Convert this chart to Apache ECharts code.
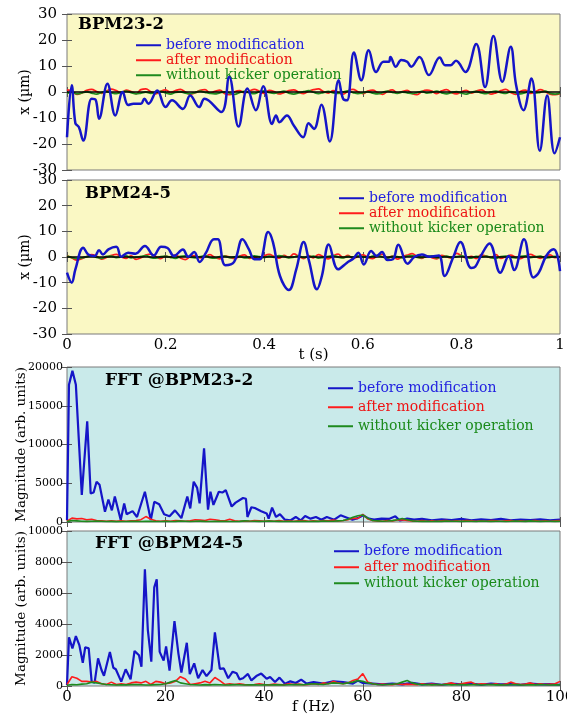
<!DOCTYPE html>
<html>
<head>
<meta charset="utf-8">
<script src="https://cdn.jsdelivr.net/npm/echarts@6/dist/echarts.min.js"></script>
<style>html,body{margin:0;padding:0;background:#fff}#c{width:567px;height:715px}</style>
</head>
<body>
<div id="c"></div>
<script>
// ---------- DATA ----------
const seriesNames = ['before modification', 'after modification', 'without kicker operation'];
const titles = ['BPM23-2', 'BPM24-5', 'FFT @BPM23-2', 'FFT @BPM24-5'];
const xTicksTime = [0, 0.2, 0.4, 0.6, 0.8, 1];
const xTicksFreq = [0, 20, 40, 60, 80, 100];

// BPM23-2 before modification (t in s, x in um)
const t1 = [0,0.0096,0.017,0.024,0.033,0.050,0.058,0.065,0.082,0.098,0.113,0.124,0.135,0.150,0.157,0.165,0.183,0.200,0.213,0.235,0.250,0.268,0.279,0.313,0.329,0.348,0.366,0.383,0.398,0.416,0.424,0.431,0.446,0.460,0.479,0.490,0.501,0.516,0.533,0.551,0.560,0.568,0.582,0.597,0.612,0.627,0.642,0.653,0.656,0.667,0.678,0.690,0.698,0.715,0.734,0.756,0.767,0.778,0.789,0.808,0.830,0.848,0.865,0.883,0.900,0.911,0.926,0.942,0.959,0.974,0.989,1.0];
const v1 = [-17.4,2.6,-12,-13.5,-18.7,-2.6,-3,-10.3,3.2,-9,0,-5,-4.5,-4.5,-2.6,-4.5,0.6,-5.8,-3.2,-6.5,-1.3,-5.8,-2.6,-7.7,5.8,-13.3,1.3,-7,2.2,-12.3,-9,-11.6,-9,-12.9,-17.4,-12,-14.2,-4.9,-19,4.5,-2.6,-3.2,15.2,4.5,16.1,7.7,11.6,11.6,13.5,9.7,12.3,11.6,9.7,13.5,6.5,13.3,10.3,10.3,12,7.7,18.5,1.9,21.5,3.9,17.4,2.6,-7,5.2,-22.6,-1.3,-23.6,-17.4];

// BPM24-5 before modification
const t2 = [0,0.0096,0.017,0.033,0.043,0.056,0.065,0.073,0.084,0.100,0.110,0.124,0.139,0.158,0.176,0.191,0.204,0.217,0.235,0.246,0.258,0.269,0.282,0.298,0.306,0.321,0.339,0.356,0.369,0.380,0.391,0.408,0.418,0.432,0.450,0.465,0.480,0.491,0.507,0.517,0.531,0.550,0.568,0.581,0.591,0.602,0.617,0.628,0.639,0.650,0.661,0.672,0.691,0.705,0.720,0.735,0.754,0.766,0.783,0.798,0.820,0.828,0.840,0.857,0.879,0.896,0.907,0.927,0.946,0.957,0.972,0.987,0.994,1.0];
const v2 = [-6.1,-10,-4.8,3.6,1,0.4,2.6,1,3,4,0.1,1.7,1.3,4.3,0.6,4,3.5,0.4,2.9,0.1,1.9,-1.9,1.7,6.9,6.9,-3.2,-1.9,6.9,3,-0.9,-0.9,9.7,5.6,-7.4,-12.9,-4.8,5.8,-1.6,-12.6,-7.4,4.9,-4.8,-2.2,-0.6,1.7,-2.9,2.3,0.4,1.9,-1.2,-0.9,4.8,-2.6,0.1,1,0.1,0.6,-7.4,-0.3,5.8,-4.3,-3.8,0.6,5.3,-6.1,0.4,-5.1,6.9,-8,-6.1,0.4,3,1,-5.5];

// common time grid for after / without series
const tGrid = [0,0.01,0.02,0.03,0.04,0.05,0.06,0.07,0.08,0.09,0.1,0.11,0.12,0.13,0.14,0.15,0.16,0.17,0.18,0.19,0.2,0.21,0.22,0.23,0.24,0.25,0.26,0.27,0.28,0.29,0.3,0.31,0.32,0.33,0.34,0.35,0.36,0.37,0.38,0.39,0.4,0.41,0.42,0.43,0.44,0.45,0.46,0.47,0.48,0.49,0.5,0.51,0.52,0.53,0.54,0.55,0.56,0.57,0.58,0.59,0.6,0.61,0.62,0.63,0.64,0.65,0.66,0.67,0.68,0.69,0.7,0.71,0.72,0.73,0.74,0.75,0.76,0.77,0.78,0.79,0.8,0.81,0.82,0.83,0.84,0.85,0.86,0.87,0.88,0.89,0.9,0.91,0.92,0.93,0.94,0.95,0.96,0.97,0.98,0.99,1];
const r1 = [0.8,0.3,-0.9,-0.4,0.6,1.0,0.2,-0.5,0.4,1.1, 0.5,-0.3,0.7,0.2,-0.6,0.9,1.2,0.1,-0.7,0.3, 0.8,-0.2,0.5,1.0,0.0,-0.8,-0.3,0.6,0.9,-0.4, 0.2,0.7,-0.6,-1.0,0.1,0.5,-0.3,0.4,1.0,0.3, -0.5,0.6,0.2,-0.7,-0.2,0.5,0.8,-0.1,-0.6,0.3, 0.9,1.2,0.2,-0.4,0.5,-0.3,-0.8,0.4,1.0,0.1, -0.6,0.3,0.7,-0.2,-0.9,0.2,0.8,-0.4,0.1,0.6, -0.5,-1.0,0.2,0.7,0.3,-0.6,0.4,0.9,-0.2,-0.7, 0.1,0.6,-0.4,0.3,0.8,-0.1,-0.8,-0.3,0.5,1.0, -0.2,-0.9,0.3,0.7,-0.5,0.1,0.9,0.2,-0.8,-1.0, -0.6];
const g1 = [-0.5,-0.1,-0.7,-0.3,0.1,-0.4,-0.8,-0.2,0.2,-0.3, -0.6,-0.1,0.3,-0.2,-0.7,-0.4,0.0,-0.5,-0.2,0.2, -0.3,-0.8,-0.1,0.1,-0.4,-0.6,-0.2,0.3,-0.1,-0.5, -0.7,-0.3,0.0,-0.4,-0.9,-0.2,0.2,-0.3,-0.6,0.1, 0.4,-0.2,-0.5,-0.1,0.3,-0.4,-0.8,-0.3,0.1,0.5, -0.1,-0.6,-0.2,0.2,-0.3,-0.5,0.0,0.4,-0.2,-0.6, -0.3,0.1,-0.4,-0.7,-0.2,0.3,-0.1,-0.5,0.0,-0.3, -0.6,-0.2,0.2,-0.4,-0.1,0.3,-0.3,-0.7,-0.2,0.1, -0.4,-0.8,-0.1,0.2,-0.3,-0.6,0.0,0.3,-0.2,-0.5, 0.1,-0.3,-0.7,-0.2,0.2,-0.4,-0.1,0.3,-0.5,-0.8, -0.4];
const r2 = [0.5,-0.4,-1.2,-0.6,0.2,0.9,0.3,-0.8,-0.2,0.6, 1.0,0.1,-0.5,0.4,-0.9,-0.3,0.7,1.1,0.2,-0.6, 0.3,-0.1,0.8,-0.4,-1.0,0.2,0.5,-0.3,0.1,0.9, -0.2,-0.7,0.4,-0.1,-0.6,0.3,0.8,-0.5,0.0,-0.8, 0.4,1.0,0.2,-0.4,0.6,-0.2,1.2,0.3,-0.6,0.5, -0.3,0.9,0.1,-0.7,0.4,1.1,-0.2,0.6,-0.5,0.2, 0.8,-0.1,-0.6,0.5,1.0,-0.4,0.3,-0.8,0.1,0.7, 1.3,0.2,-0.5,0.4,-0.2,-0.7,0.6,0.1,-0.4,1.4, 0.5,-0.3,0.2,-0.6,0.8,0.3,-0.2,0.9,-0.5,0.1, 0.7,-0.1,-0.6,0.4,1.0,0.2,-0.5,0.3,0.8,-0.2, 0.3];
const g2 = [0.3,-0.2,-0.6,-0.3,0.1,0.4,-0.1,-0.5,0.2,0.3, -0.2,0.0,0.4,-0.3,-0.1,0.2,0.5,-0.2,-0.4,0.1, 0.3,-0.1,-0.5,0.2,0.4,0.0,-0.3,0.1,0.5,-0.2, -0.4,0.1,0.3,-0.2,0.0,0.2,-0.3,-0.1,0.4,0.1, -0.2,0.3,-0.1,0.5,0.2,-0.3,0.0,0.4,-0.2,0.1, 0.3,-0.4,-0.1,0.2,0.5,0.0,-0.3,0.2,-0.1,0.4, 0.1,-0.2,0.3,0.6,0.0,-0.4,0.2,0.1,-0.3,0.3, 0.5,-0.1,-0.2,0.2,0.4,-0.3,0.0,0.3,-0.2,0.1, 0.4,-0.1,-0.4,0.2,0.0,0.3,-0.2,-0.5,0.1,0.3, -0.1,-0.3,0.2,0.4,-0.2,0.1,0.3,-0.4,-0.1,0.2, 0.0];

// FFT @BPM23-2 before modification (f in Hz, magnitude)
const f3 = [0,0.4,1.1,1.8,3.0,4.1,4.8,5.4,6.0,6.6,7.7,8.4,9.1,9.7,10.9,11.6,12.1,13.3,14.2,15.8,17.0,17.7,18.7,19.7,20.8,21.9,23.2,24.4,25.0,25.7,26.4,26.9,27.8,28.6,29.1,29.7,30.8,31.5,32.2,33.4,34.2,35.7,36.3,36.6,37.4,38.1,39.4,40.5,40.9,41.6,42.4,43.2,44.2,45.3,46.4,47.4,48.3,49.4,50.5,51.6,52.7,54.2,55.5,56.8,57.9,59.0,60.1,61.2,62.3,63.8,65.3,66.6,67.5,69.0,70.4,72,74,76,78,80,82,84,86,88,90,92,94,96,98,100];
const m3 = [250,17700,19500,17700,3500,13000,3700,3800,5200,4800,1330,2900,1500,3300,250,2400,1000,1400,650,3900,250,2600,2300,1000,750,1500,500,3300,1750,5200,4400,2400,9500,1600,3900,2200,3900,3800,4100,2000,2500,3100,3000,650,1900,1800,1400,1100,430,1850,650,1000,300,200,650,200,770,430,650,300,650,300,860,560,300,500,860,430,300,430,400,730,200,430,300,400,200,350,250,400,200,350,250,400,200,300,250,350,200,300];

// FFT @BPM24-5 before modification
const f4 = [0,0.4,1.1,1.8,2.5,3.2,3.7,4.4,5.0,5.6,6.3,7.0,7.5,8.7,9.4,9.9,11.0,11.9,12.9,13.7,14.6,15.1,15.8,16.4,17.1,17.7,18.2,18.8,19.6,20.1,20.8,21.8,22.6,23.2,24.3,24.9,25.8,26.6,27.5,28.3,29.3,30.0,31.0,31.8,32.7,33.6,34.4,35.0,35.7,36.7,37.4,38.4,39.4,40.5,41.2,42.2,43.1,44.2,45.3,46.4,47.5,48.6,50,52,54,56,58,59,60,62,64,66,68,70,72,74,76,78,80,82,84,86,88,90,92,94,96,98,100];
const m4 = [65,3140,2430,3220,2640,1500,2500,2430,280,220,1780,1030,660,2200,1180,1080,280,1080,430,2260,1980,1240,7530,3600,1570,6360,6880,2200,1640,2560,990,4190,2090,860,2790,770,1460,500,1030,640,1030,3460,1100,1140,500,920,820,430,500,780,360,640,800,470,580,260,540,150,300,190,410,150,250,150,300,250,150,350,200,150,100,150,100,200,100,150,80,150,100,150,80,150,100,120,80,150,100,120,80];

// common frequency grid for after / without series
const fGrid = [0,1,2,3,4,5,6,7,8,9,10,11,12,13,14,15,16,17,18,19,20,21,22,23,24,25,26,27,28,29,30,31,32,33,34,35,36,37,38,39,40,41,42,43,44,45,46,47,48,49,50,51,52,53,54,55,56,57,58,59,60,61,62,63,64,65,66,67,68,69,70,71,72,73,74,75,76,77,78,79,80,81,82,83,84,85,86,87,88,89,90,91,92,93,94,95,96,97,98,99,100];
const r3 = [100,500,400,450,300,350,200,150,100,150, 100,150,100,150,200,300,700,350,150,100, 150,100,200,150,100,150,300,250,200,350, 300,200,150,350,150,100,150,100,200,150, 100,150,100,200,100,150,100,150,200,100, 150,100,200,150,250,150,200,300,500,450, 1000,400,200,150,100,200,150,250,300,200, 150,100,200,100,150,100,150,200,100,150, 100,200,150,100,150,100,200,150,100,150, 200,100,150,100,150,200,100,150,100,150, 200];
const g3 = [50,200,150,100,80,100,120,90,60,80, 50,70,60,90,80,60,100,80,60,70, 90,60,80,120,100,70,90,110,80,60, 100,80,90,70,60,80,150,120,100,80, 90,120,100,80,60,90,70,100,80,60, 100,80,120,90,100,150,200,350,600,800, 900,500,200,150,100,120,180,300,450,300, 150,100,80,90,70,100,80,120,90,100, 80,100,90,70,120,100,80,90,100,70, 90,120,100,80,150,100,80,90,100,80, 90];
const r4 = [100,600,500,300,300,250,300,150,100,250, 100,150,100,200,250,200,300,100,300,250, 150,200,300,600,450,100,150,200,300,200, 550,350,100,150,100,150,100,80,100,150, 100,80,120,100,80,150,100,120,80,100, 150,100,200,150,300,200,150,200,350,450, 800,250,150,100,120,100,80,150,100,120, 100,80,150,100,120,100,80,150,200,100, 150,200,250,100,150,120,100,150,80,120, 250,150,100,120,200,100,150,100,120,150, 300];
const g4 = [50,100,80,120,150,250,200,150,100,80, 60,80,70,90,100,80,60,70,90,100, 150,250,350,200,150,100,80,60,90,70, 100,80,60,70,90,80,60,70,80,60, 70,60,80,70,60,80,100,90,80,120, 150,120,100,150,200,180,150,200,250,350, 300,200,150,100,80,100,120,150,250,350, 200,120,80,100,70,90,80,100,70,80, 90,70,80,100,60,80,90,70,80,60, 80,90,70,60,80,70,90,80,60,80, 70];

// ---------- CHART ----------
const FONT = 'DejaVu Serif';
const BLUE = '#1515c8', RED = '#ff1c1c', GREEN = '#1e8a1e';
const TXT = ['#2222e0', '#ee1414', '#1a8a1a'];
const YEL = '#faf8c4', CYAN = '#c9eaea';
const zip = (xs, ys) => xs.map((x, i) => [x, ys[i]]);

const panels = [
  {top: 14, height: 156, bg: YEL, xmax: 1, xint: 0.2, ymin: -30, ymax: 30, yint: 10, xLabel: false, yName: 'x (\u00b5m)', xName: '', yFont: 15, yGap: 35,
   leg: {left: 131, top: 33, gap: 0.5}, title: {left: 78, top: 16, size: 16.5}},
  {top: 180, height: 154, bg: YEL, xmax: 1, xint: 0.2, ymin: -30, ymax: 30, yint: 10, xLabel: true, yName: 'x (\u00b5m)', xName: 't (s)', yFont: 15, yGap: 35,
   leg: {left: 334, top: 186, gap: 0.5}, title: {left: 85, top: 185, size: 16.5}},
  {top: 367, height: 155, bg: CYAN, xmax: 100, xint: 20, ymin: 0, ymax: 20000, yint: 5000, xLabel: false, yName: 'Magnitude (arb. units)', xName: '', yFont: 11, yGap: 39,
   leg: {left: 323, top: 376, gap: 4.5}, title: {left: 105, top: 372, size: 17}},
  {top: 531, height: 155, bg: CYAN, xmax: 100, xint: 20, ymin: 0, ymax: 10000, yint: 2000, xLabel: true, yName: 'Magnitude (arb. units)', xName: 'f (Hz)', yFont: 11, yGap: 39,
   leg: {left: 329, top: 539, gap: 1.5}, title: {left: 95, top: 535, size: 17}}
];

const grid = [], xAxis = [], yAxis = [], legend = [], title = [], series = [];
const tickStyle = {show: true, inside: true, length: 5, lineStyle: {color: '#555', width: 1}};
const plain = v => String(v);

panels.forEach((p, i) => {
  grid.push({left: 67, right: 7, top: p.top, height: p.height, show: true, backgroundColor: p.bg,
    borderColor: '#7a7a7a', borderWidth: 1, containLabel: false, outerBoundsMode: 'none'});
  const xBase = {gridIndex: i, type: 'value', min: 0, max: p.xmax, interval: p.xint,
    axisLine: {show: false}, axisTick: tickStyle, splitLine: {show: false}};
  xAxis.push(Object.assign({}, xBase, {position: 'bottom',
    axisLabel: {show: p.xLabel, color: '#000', fontFamily: FONT, fontSize: 15, margin: 4, formatter: plain},
    name: p.xName, nameLocation: 'middle', nameGap: 14, nameMoveOverlap: false,
    nameTextStyle: {color: '#000', fontFamily: FONT, fontSize: 15}}));
  xAxis.push(Object.assign({}, xBase, {position: 'top', axisLabel: {show: false}}));
  const yBase = {gridIndex: i, type: 'value', min: p.ymin, max: p.ymax, interval: p.yint,
    axisLine: {show: false}, axisTick: tickStyle, splitLine: {show: false}};
  yAxis.push(Object.assign({}, yBase, {position: 'left',
    axisLabel: {show: true, color: '#000', fontFamily: FONT, fontSize: p.yFont, margin: i < 2 ? 10 : 4, formatter: plain},
    name: p.yName, nameLocation: 'middle', nameGap: p.yGap, nameMoveOverlap: false,
    nameTextStyle: {color: '#000', fontFamily: FONT, fontSize: i < 2 ? 14 : 13.5}}));
  yAxis.push(Object.assign({}, yBase, {position: 'right', axisLabel: {show: false}}));

  legend.push({orient: 'vertical', left: p.leg.left, top: p.leg.top, itemWidth: 25, itemHeight: 2, icon: 'rect',
    itemGap: p.leg.gap, selectedMode: false,
    textStyle: {fontFamily: FONT, fontSize: 14, lineHeight: 14.5},
    data: seriesNames.map((n, k) => ({name: n, textStyle: {color: TXT[k]}}))});
  title.push({text: titles[i], left: p.title.left, top: p.title.top, padding: 0,
    textStyle: {fontFamily: FONT, fontWeight: 'bold', fontSize: p.title.size, color: '#000'}});
});

function line(name, gi, data, color, width, smooth, z) {
  return {name: name, type: 'line', xAxisIndex: 2 * gi, yAxisIndex: 2 * gi, data: data,
    showSymbol: false, symbol: 'none', smooth: smooth, z: z, animation: false,
    lineStyle: {color: color, width: width}, itemStyle: {color: color}};
}

// time panels
series.push(line(seriesNames[1], 0, zip(tGrid, r1), RED, 1.8, 0.4, 2));
series.push(line(seriesNames[2], 0, zip(tGrid, g1), GREEN, 1.8, 0.4, 3));
series.push(line('zero', 0, [[0, 0], [1, 0]], '#000', 1.5, false, 4));
series.push(line(seriesNames[0], 0, zip(t1, v1), BLUE, 2.5, 0.4, 5));
series.push(line(seriesNames[1], 1, zip(tGrid, r2), RED, 1.8, 0.4, 2));
series.push(line(seriesNames[2], 1, zip(tGrid, g2), GREEN, 1.8, 0.4, 3));
series.push(line('zero', 1, [[0, 0], [1, 0]], '#000', 1.5, false, 4));
series.push(line(seriesNames[0], 1, zip(t2, v2), BLUE, 2.5, 0.4, 5));
// FFT panels
series.push(line(seriesNames[0], 2, zip(f3, m3), BLUE, 2.2, false, 2));
series.push(line(seriesNames[1], 2, zip(fGrid, r3), RED, 1.6, false, 3));
series.push(line(seriesNames[2], 2, zip(fGrid, g3), GREEN, 1.6, false, 4));
series.push(line(seriesNames[0], 3, zip(f4, m4), BLUE, 2.2, false, 2));
series.push(line(seriesNames[1], 3, zip(fGrid, r4), RED, 1.6, false, 3));
series.push(line(seriesNames[2], 3, zip(fGrid, g4), GREEN, 1.6, false, 4));

const chart = echarts.init(document.getElementById('c'), null, {renderer: 'canvas'});
chart.setOption({animation: false, backgroundColor: '#fff', grid, xAxis, yAxis, legend, title, series});
</script>
</body>
</html>
